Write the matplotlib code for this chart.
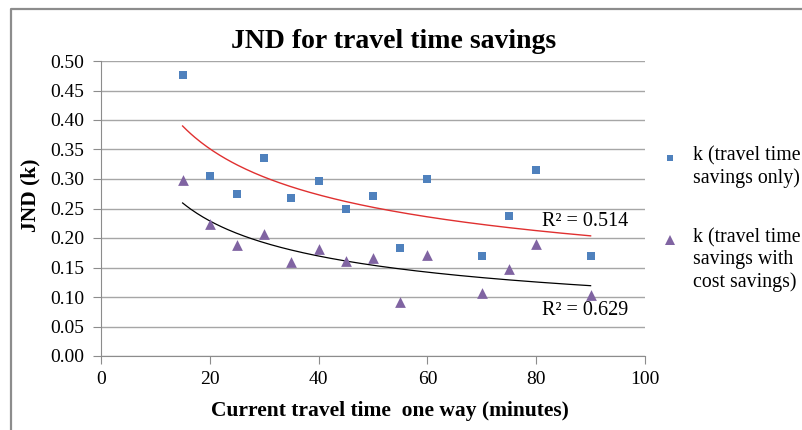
import matplotlib.pyplot as plt
from matplotlib.lines import Line2D
import numpy as np

plt.rcParams['font.family'] = ['Liberation Serif', 'DejaVu Serif']

# travel time (minutes) for each survey group
minutes = [15, 20, 25, 30, 35, 40, 45, 50, 55, 60, 70, 75, 80, 90]
# k, travel time savings only
k_time = [0.476, 0.305, 0.274, 0.335, 0.267, 0.296, 0.250, 0.272,
          0.183, 0.300, 0.169, 0.237, 0.315, 0.169]
# k, travel time savings with cost savings
k_cost = [0.298, 0.223, 0.188, 0.206, 0.159, 0.181, 0.161, 0.166,
          0.092, 0.171, 0.106, 0.147, 0.190, 0.104]
r2_labels = ['R² = 0.514', 'R² = 0.629']
legend_labels = ['k (travel time\nsavings only)',
                 'k (travel time\nsavings with\ncost savings)']

blue = '#4F81BD'
purple = '#8064A2'

fig = plt.figure(figsize=(8.03, 4.30), dpi=100)
ax = fig.add_axes([101 / 803, 1 - 356 / 430, 544 / 803, 295 / 430])

x = np.array(minutes, dtype=float)


def power_fit(y):
    # excel style power trendline: fit on log-log
    b, loga = np.polyfit(np.log(x), np.log(np.array(y)), 1)
    xs = np.linspace(x.min(), x.max(), 200)
    return xs, np.exp(loga) * xs ** b


xs, ys = power_fit(k_time)
ax.plot(xs, ys, color='#E03030', lw=1.0, zorder=2)
xs, ys = power_fit(k_cost)
ax.plot(xs, ys, color='black', lw=0.9, zorder=2)

ax.scatter(minutes, k_time, marker='s', s=36, color=blue, zorder=3, linewidths=0)
ax.scatter(minutes, k_cost, marker='^', s=60, color=purple, zorder=3, linewidths=0)

ax.text(96.9, 0.2285, r2_labels[0], ha='right', va='center', fontsize=14.5)
ax.text(96.9, 0.0775, r2_labels[1], ha='right', va='center', fontsize=14.5)

ax.set_xlim(0, 100)
ax.set_ylim(0, 0.5)
ax.set_xticks(np.arange(0, 101, 20))
ax.set_yticks(np.arange(0, 0.501, 0.05))
ax.set_yticklabels([f'{v:.2f}' for v in np.arange(0, 0.501, 0.05)])
ax.grid(axis='y', color='#A6A6A6', lw=1.0)
ax.set_axisbelow(True)
for s in ['top', 'right']:
    ax.spines[s].set_visible(False)
for s in ['left', 'bottom']:
    ax.spines[s].set_color('#8C8C8C')
ax.tick_params(axis='both', direction='out', length=6, color='#8C8C8C',
               labelsize=14, pad=5)
ax.tick_params(axis='y', length=6, pad=6)

fig.text(394 / 803, 1 - 41 / 430, 'JND for travel time savings', ha='center',
         va='center', fontsize=20, fontweight='bold')
ax.set_xlabel('Current travel time  one way (minutes)', fontsize=15.5,
              fontweight='bold', labelpad=9)
ax.xaxis.label.set_x((389.5 - 101) / 544)
ax.set_ylabel('JND (k)', fontsize=15.5, fontweight='bold', labelpad=7)
ax.yaxis.label.set_y((356 - 195) / 295)

# legend on the right, marker level with first line of each label
for i, (mk, col, ms, yy) in enumerate([('s', blue, 5, 158), ('^', purple, 7, 240)]):
    fig.add_artist(Line2D([670 / 803], [1 - yy / 430], marker=mk, color=col,
                          markersize=ms, linestyle='none', markeredgewidth=0,
                          transform=fig.transFigure))
    fig.text(693 / 803, 1 - (yy - 12) / 430, legend_labels[i], ha='left', va='top',
             fontsize=14.3, linespacing=1.2)

# chart frame (only top and left edges visible)
fig.add_artist(Line2D([11 / 803, 11 / 803, 1.0], [0.0, 1 - 9 / 430, 1 - 9 / 430],
                      color='#8C8C8C', lw=1.6, transform=fig.transFigure))

fig.savefig('out.png', dpi=100)
